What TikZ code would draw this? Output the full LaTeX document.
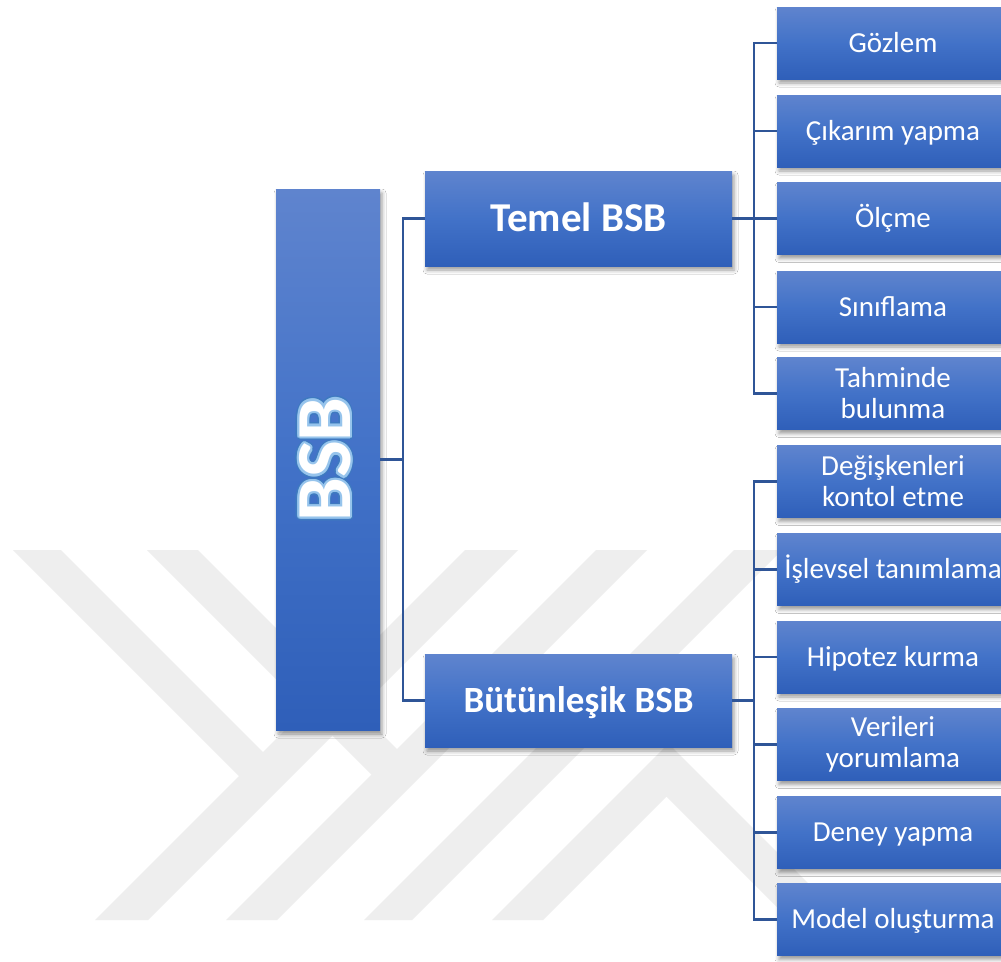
\documentclass[tikz,border=0pt]{standalone}
\usepackage{fontspec}
\setmainfont{Carlito}
\usetikzlibrary{shadows.blur}
\definecolor{boxtop}{RGB}{95,132,206}
\definecolor{boxmid}{RGB}{66,114,200}
\definecolor{boxbot}{RGB}{47,95,185}
\definecolor{conn}{RGB}{47,85,151}
\definecolor{wm}{RGB}{238,238,238}
\definecolor{glowout}{RGB}{62,122,192}
\definecolor{glowin}{RGB}{150,196,236}
\tikzset{
  bluebox/.style={rectangle, inner sep=0pt, top color=boxtop, bottom color=boxbot, middle color=boxmid,
    text=white, align=center,
    blur shadow={shadow xshift=2pt, shadow yshift=-4pt, shadow blur radius=4pt, shadow opacity=40}},
  leafbox/.style={bluebox, minimum width=232pt, minimum height=72pt, font=\fontsize{29}{31}\selectfont},
  oneline/.style={text height=20pt, text depth=1.5pt},
  midbox/.style={bluebox, minimum width=307pt},
  link/.style={draw=conn, line width=2.5pt},
  band/.style={fill=wm, draw=none},
  bigtext/.style={rotate=90, inner sep=0pt, font=\bfseries\fontsize{78}{80}\selectfont},
}
\begin{document}
\begin{tikzpicture}[x=1pt,y=-1pt]
\useasboundingbox (0,0) rectangle (1001,961);
\clip (0,0) rectangle (1001,961);
\fill[white] (0,0) rectangle (1001,961);
% watermark
\fill[band] (13,550) -- (61,550) -- (270.5,759.5) -- (246.5,783.5) -- cycle;
\fill[band] (465,550) -- (518,550) -- (148,920) -- (95,920) -- cycle;
\fill[band] (147,550) -- (198,550) -- (404,756) -- (378.5,781.5) -- cycle;
\fill[band] (596,550) -- (647,550) -- (277,920) -- (226,920) -- cycle;
\fill[band] (734,550) -- (782,550) -- (412,920) -- (364,920) -- cycle;
\fill[band] (492,920) -- (668.5,743.5) -- (845,920) -- (790,920) -- (666.5,796.5) -- (543,920) -- cycle;

% main boxes
\node[bluebox, minimum width=104pt, minimum height=541pt] (bsb) at (328,459.5) {};
\coordinate (bsbtext) at (325,459.5);
\foreach \a in {0,30,...,330}
  \node[bigtext, text=glowout] (go\a) at ([shift={(\a:3.6)}]bsbtext) {BSB};
\foreach \a in {0,30,...,330}
  \node[bigtext, text=glowin] (gi\a) at ([shift={(\a:2.2)}]bsbtext) {BSB};
\node[bigtext, text=white] (bsblabel) at (bsbtext) {BSB};

\node[midbox, minimum height=95pt, text height=28pt, text depth=1.5pt,
      font=\bfseries\fontsize{41}{48}\selectfont] (temel) at (578.5,218.5) {Temel BSB};
\node[midbox, minimum height=93pt, text height=25pt, text depth=1.2pt,
      font=\bfseries\fontsize{37}{44}\selectfont] (butun) at (578.5,700.5) {Bütünleşik BSB};

% leaves
\node[leafbox, oneline] (t1) at (893,43) {Gözlem};
\node[leafbox, oneline] (t2) at (893,131) {Çıkarım yapma};
\node[leafbox, oneline] (t3) at (893,218.5) {Ölçme};
\node[leafbox, oneline] (t4) at (893,307) {Sınıflama};
\node[leafbox] (t5) at (893,393.5) {Tahminde\\bulunma};
\node[leafbox] (b1) at (893,481.5) {Değişkenleri\\kontol etme};
\node[leafbox, oneline] (b2) at (893,569.5) {İşlevsel tanımlama};
\node[leafbox, oneline] (b3) at (893,657) {Hipotez kurma};
\node[leafbox] (b4) at (893,744.5) {Verileri\\yorumlama};
\node[leafbox, oneline] (b5) at (893,832.5) {Deney yapma};
\node[leafbox, oneline] (b6) at (893,919.5) {Model oluşturma};

% connectors
\draw[link] (bsb.east) -- ++(23,0) |- (temel.west);
\draw[link] (bsb.east) -- ++(23,0) |- (butun.west);
\foreach \n in {t1,t2,t3,t4,t5}
  \draw[link] (temel.east) -- ++(22,0) |- (\n.west);
\foreach \n in {b1,b2,b3,b4,b5,b6}
  \draw[link] (butun.east) -- ++(22,0) |- (\n.west);
\end{tikzpicture}
\end{document}
